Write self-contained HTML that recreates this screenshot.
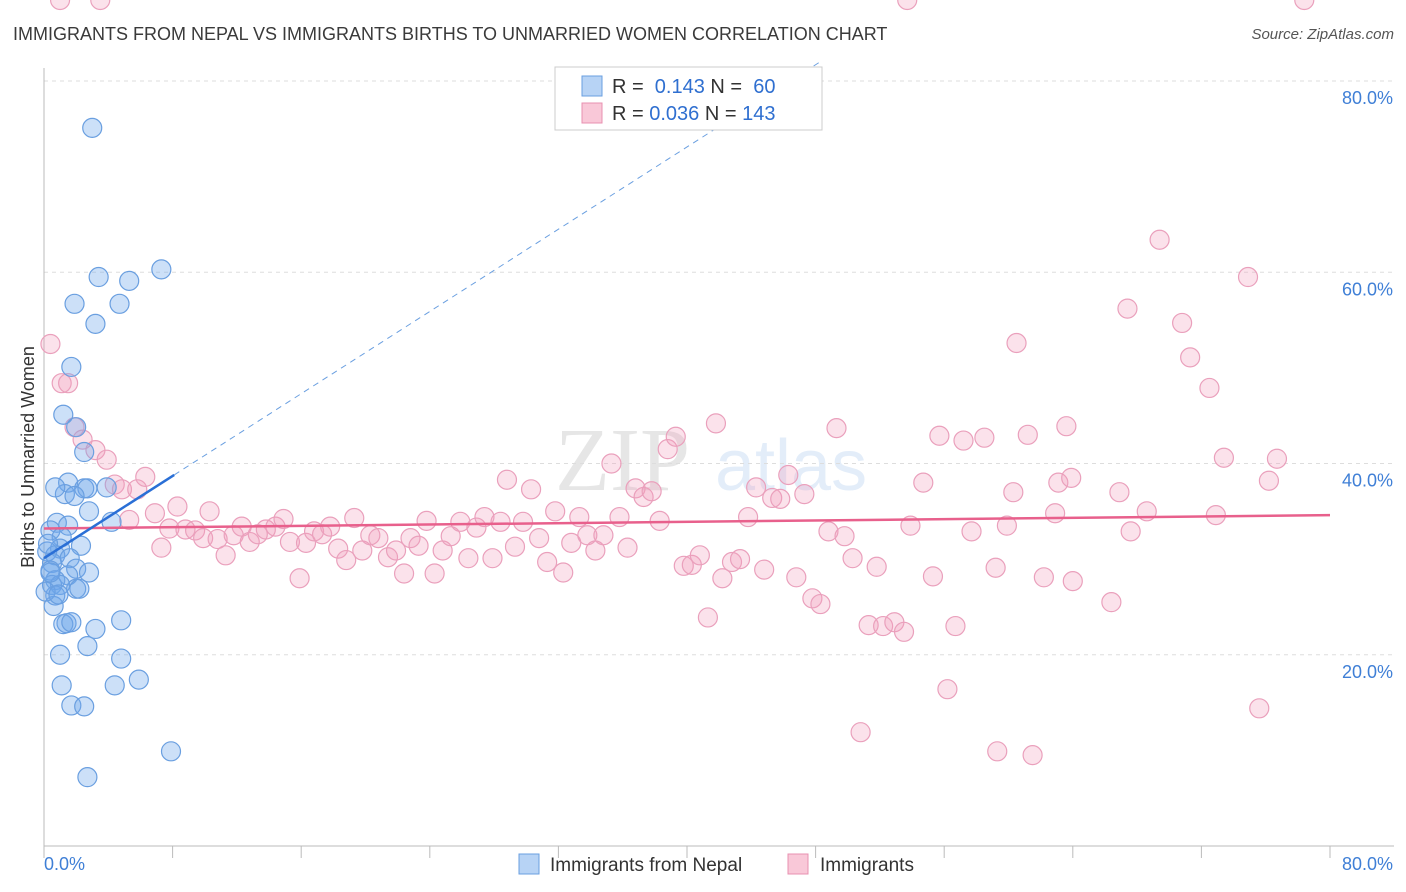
<!DOCTYPE html>
<html><head><meta charset="utf-8"><style>
body{margin:0;background:#fff;font-family:"Liberation Sans",sans-serif;}
svg{display:block}
</style></head><body>
<svg id="chart" width="1406" height="892" xmlns="http://www.w3.org/2000/svg">
<text x="13" y="40" font-size="18" fill="#3a3a3a">IMMIGRANTS FROM NEPAL VS IMMIGRANTS BIRTHS TO UNMARRIED WOMEN CORRELATION CHART</text>
<text x="1394" y="39" font-size="15" fill="#555" font-style="italic" text-anchor="end">Source: ZipAtlas.com</text>
<g opacity="0.18">
<text x="555" y="490" font-family="Liberation Serif,serif" font-size="90" fill="#777">ZIP</text>
<text x="715" y="490" font-size="72" fill="#6a9fe0">atlas</text>
</g>
<g id="grid"></g>
<g id="axes"></g>
<g id="pink"></g>
<g id="blue"></g>
<g id="lines"></g>
<text transform="translate(34,457) rotate(-90)" font-size="18" fill="#333" text-anchor="middle">Births to Unmarried Women</text>
<g>
<rect x="555" y="67" width="267" height="63" fill="#fff" stroke="#ccc"/>
<rect x="582" y="76" width="20" height="20" fill="#b7d3f5" stroke="#6a9fe0"/>
<rect x="582" y="103" width="20" height="20" fill="#f9c8d8" stroke="#e890b0"/>
<text x="612" y="93" font-size="20" fill="#333">R = <tspan fill="#2f6fd0">&#160;0.143</tspan>   N = <tspan fill="#2f6fd0">&#160;60</tspan></text>
<text x="612" y="120" font-size="20" fill="#333">R = <tspan fill="#2f6fd0">0.036</tspan>   N = <tspan fill="#2f6fd0">143</tspan></text>
</g>
<g>
<rect x="519" y="854" width="20" height="20" fill="#b7d3f5" stroke="#6a9fe0"/>
<text x="550" y="871" font-size="19" fill="#333">Immigrants from Nepal</text>
<rect x="788" y="854" width="20" height="20" fill="#f9c8d8" stroke="#e890b0"/>
<text x="820" y="871" font-size="19" fill="#333">Immigrants</text>
</g>
</svg>
<script>
const xTicks=[0,10,20,30,40,50,60,70,80];
const yTicks=[20,40,60,80];
const yTickLabels=["20.0%","40.0%","60.0%","80.0%"];
const blueX=[3.0,3.4,5.3,7.3,1.9,4.7,3.2,1.7,1.2,2.0,2.5,1.5,2.5,2.7,1.3,1.9,3.9,0.7,2.8,4.2,0.8,1.5,0.4,1.1,2.3,1.0,0.2,0.7,1.6,0.5,2.0,2.8,0.4,1.5,0.7,0.5,1.0,2.0,2.2,0.7,0.6,1.4,1.2,1.7,4.8,3.2,2.7,1.0,4.8,5.9,1.1,4.4,1.7,2.5,7.9,2.7,0.25,0.4,0.1,0.9];
const blueY=[75.1,59.5,59.1,60.3,56.7,56.7,54.6,50.1,45.1,43.8,41.2,38.0,37.4,37.4,36.8,36.6,37.5,37.5,35.0,33.9,33.8,33.5,33.0,32.3,31.4,31.1,30.8,30.4,30.1,29.6,29.0,28.6,28.8,28.3,27.8,27.3,27.3,26.9,26.9,26.2,25.1,23.3,23.2,23.4,23.6,22.7,20.9,20.0,19.6,17.4,16.8,16.8,14.7,14.6,9.9,7.2,31.6,28.6,26.6,26.3];
const pinkX=[0.4,1.1,1.5,1.9,2.4,3.2,3.9,4.4,4.85,5.3,5.8,6.3,6.9,7.3,7.8,8.3,8.8,9.4,9.9,10.3,10.8,11.3,11.8,12.3,12.8,13.3,13.8,14.4,14.9,15.3,15.9,16.3,16.8,17.3,17.8,18.3,18.8,19.3,19.8,20.3,20.8,21.4,21.9,22.4,22.8,23.3,23.8,24.3,24.8,25.3,25.9,26.4,26.9,27.4,27.9,28.4,28.8,29.3,29.8,30.3,30.8,31.3,31.8,32.3,32.8,33.3,33.8,34.3,34.8,35.3,35.8,36.3,36.8,37.3,37.8,38.3,38.8,39.3,39.8,40.3,40.8,41.3,41.8,42.2,42.8,43.3,43.8,44.3,44.8,45.3,45.8,46.3,46.8,47.3,47.8,48.3,48.8,49.3,49.8,50.3,50.8,51.3,51.8,52.2,52.9,53.5,53.9,54.7,55.3,55.7,56.2,56.7,57.2,57.7,58.5,59.2,59.3,59.9,60.3,60.5,61.2,61.5,62.2,62.9,63.1,63.6,63.9,64.0,66.4,66.9,67.4,67.6,68.6,69.4,70.8,71.3,72.5,72.9,73.4,74.9,75.6,76.2,76.7,78.4,53.7,1.0,3.5];
const pinkY=[52.5,48.4,48.4,43.8,42.5,41.4,40.4,37.8,37.3,34.1,37.3,38.6,34.8,31.2,33.2,35.5,33.1,33.0,32.2,35.0,32.1,30.4,32.5,33.4,31.8,32.6,33.1,33.4,34.2,31.8,28.0,31.7,32.9,32.6,33.4,31.1,29.9,34.3,30.9,32.5,32.2,30.2,30.9,28.5,32.2,31.4,34.0,28.5,30.9,32.4,33.9,30.1,33.3,34.4,30.1,33.9,38.3,31.3,33.9,37.3,32.2,29.7,35.0,28.6,31.7,34.4,32.5,30.9,32.5,40.0,34.4,31.2,37.4,36.5,37.1,34.0,41.5,42.8,29.3,29.4,30.4,23.9,44.2,28.0,29.7,30.0,34.4,37.5,28.9,36.4,36.3,38.8,28.1,36.8,25.9,25.3,32.9,43.7,32.4,30.1,11.9,23.1,29.2,23.0,23.4,22.4,33.5,38.0,28.2,42.9,16.4,23.0,42.4,32.9,42.7,29.1,9.9,33.5,37.0,52.6,43.0,9.5,28.1,34.8,38.0,43.9,38.5,27.7,25.5,37.0,56.2,32.9,35.0,63.4,54.7,51.1,47.9,34.6,40.6,59.5,14.4,38.2,40.5];
const blueLine=[30.1,1.075];
const pinkLine=[33.2,34.6];
const NS="http://www.w3.org/2000/svg";
const X0=44,X1=1330,Y0=846,Y80=81;
const sx=v=>X0+(X1-X0)*v/80;
const sy=v=>Y0-(Y0-Y80)*v/80;
function mk(tag,attrs,parent){const e=document.createElementNS(NS,tag);for(const k in attrs)e.setAttribute(k,attrs[k]);document.getElementById(parent).appendChild(e);return e;}
yTicks.forEach((t,i)=>{
 const g=mk('line',{x1:X0,x2:1394,y1:sy(t),y2:sy(t),stroke:'#ddd','stroke-dasharray':'4,4'},'grid');
 
 
 const l=mk('text',{x:1393,y:sy(t)+23,'text-anchor':'end','font-size':18,fill:'#3f7fd6'},'axes');
 l.textContent=yTickLabels[i];
 
 
});
const ya=mk('line',{x1:X0,x2:X0,y1:68,y2:Y0,stroke:'#bbb'},'axes');


const xa=mk('line',{x1:X0,x2:1394,y1:Y0,y2:Y0,stroke:'#bbb'},'axes');


for(let v=0;v<=80;v+=8){const t=mk('line',{x1:sx(v),x2:sx(v),y1:Y0,y2:Y0+12,stroke:'#bbb'},'axes');
 
 }
const xl0=mk('text',{x:44,y:870,'font-size':18,fill:'#3f7fd6'},'axes');xl0.textContent=xTicks[0].toFixed(1)+'%';


const xl1=mk('text',{x:1393,y:870,'font-size':18,fill:'#3f7fd6','text-anchor':'end'},'axes');xl1.textContent=xTicks[8].toFixed(1)+'%';


pinkX.forEach((x,i)=>{const c=mk('circle',{cx:sx(x),cy:sy(pinkY[i]),r:9.5,fill:'rgba(242,160,190,0.3)',stroke:'#eaa0bc','stroke-width':1.2},'pink');
 
 });
blueX.forEach((x,i)=>{const c=mk('circle',{cx:sx(x),cy:sy(blueY[i]),r:9.5,fill:'rgba(110,165,235,0.35)',stroke:'#6a9fe0','stroke-width':1.2},'blue');
 
 });
const pl=mk('line',{x1:sx(0),y1:sy(pinkLine[0]),x2:sx(80),y2:sy(pinkLine[1]),stroke:'#e8608c','stroke-width':2.5},'lines');


const xe=8.1, xd=(82-blueLine[0])/blueLine[1];
const bl=mk('line',{x1:sx(0),y1:sy(blueLine[0]),x2:sx(xe),y2:sy(blueLine[0]+blueLine[1]*xe),stroke:'#2a6fd6','stroke-width':2.5},'lines');


const bd=mk('line',{x1:sx(xe),y1:sy(blueLine[0]+blueLine[1]*xe),x2:sx(xd),y2:sy(82),stroke:'#6a9fe0','stroke-width':1,'stroke-dasharray':'6,5'},'lines');


</script>
</body></html>
